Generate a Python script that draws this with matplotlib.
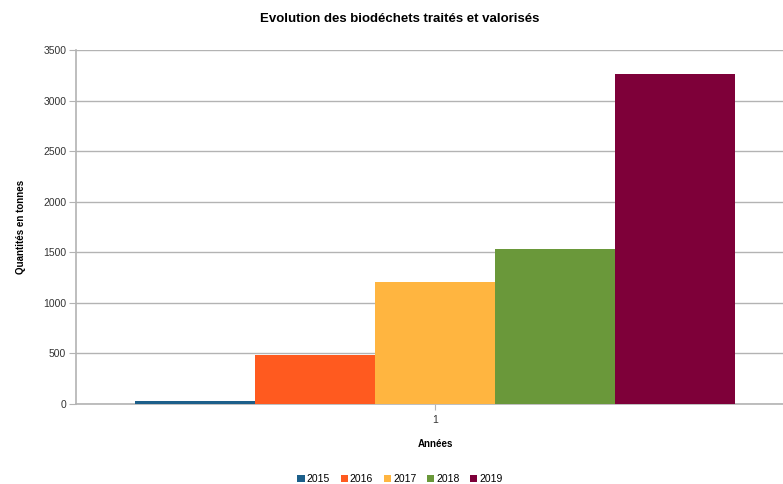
import matplotlib
matplotlib.use("Agg")
import matplotlib.pyplot as plt
import numpy as np

plt.rcParams['font.family'] = ['Liberation Sans', 'DejaVu Sans']

# Data
years = ['2015', '2016', '2017', '2018', '2019']
values = [28, 480, 1205, 1530, 3260]
colors = ['#1c5f8a', '#ff5a1f', '#ffb540', '#6a983a', '#7e0039']
categories = ['1']
yticks = [0, 500, 1000, 1500, 2000, 2500, 3000, 3500]

fig = plt.figure(figsize=(7.83, 4.84), dpi=100)
ax = fig.add_axes([76 / 783, 80 / 484, 718 / 783, 354 / 484])

width = 0.12
x = np.arange(len(categories)) + 1
for i, (yr, v, c) in enumerate(zip(years, values, colors)):
    ax.bar(x + (i - 2) * width, [v], width, color=c, label=yr, zorder=3)

ax.set_xlim(1 - 0.359, 1 + 0.359)
ax.set_ylim(0, 3500)
ax.set_yticks(yticks)
ax.set_xticks(x)
ax.set_xticklabels(categories)
ax.grid(axis='y', color='#b3b3b3', linewidth=1, zorder=0)

for s in ['top', 'right']:
    ax.spines[s].set_visible(False)
for s in ['left', 'bottom']:
    ax.spines[s].set_color('#b3b3b3')
    ax.spines[s].set_linewidth(1.2)

ax.tick_params(axis='y', length=5, color='#b3b3b3', labelsize=7.5, pad=2, labelcolor='#333333')
ax.tick_params(axis='x', length=4, color='#b3b3b3', labelsize=7.5, pad=4, labelcolor='#333333')

ax.set_xlabel('Années', fontsize=7, fontweight='bold', labelpad=10)
ax.set_ylabel('Quantités en tonnes', fontsize=7, fontweight='bold', labelpad=12)
fig.text(400 / 783, 1 - 19 / 484, 'Evolution des biodéchets traités et valorisés',
         ha='center', va='center', fontsize=9.5, fontweight='bold')

fig.legend(loc='center', bbox_to_anchor=(400 / 783, 5 / 484), ncol=5, frameon=False,
           fontsize=7.5, handlelength=0.7, handleheight=0.7, handletextpad=0.2,
           columnspacing=1.0)

fig.savefig('out.png', dpi=100)
